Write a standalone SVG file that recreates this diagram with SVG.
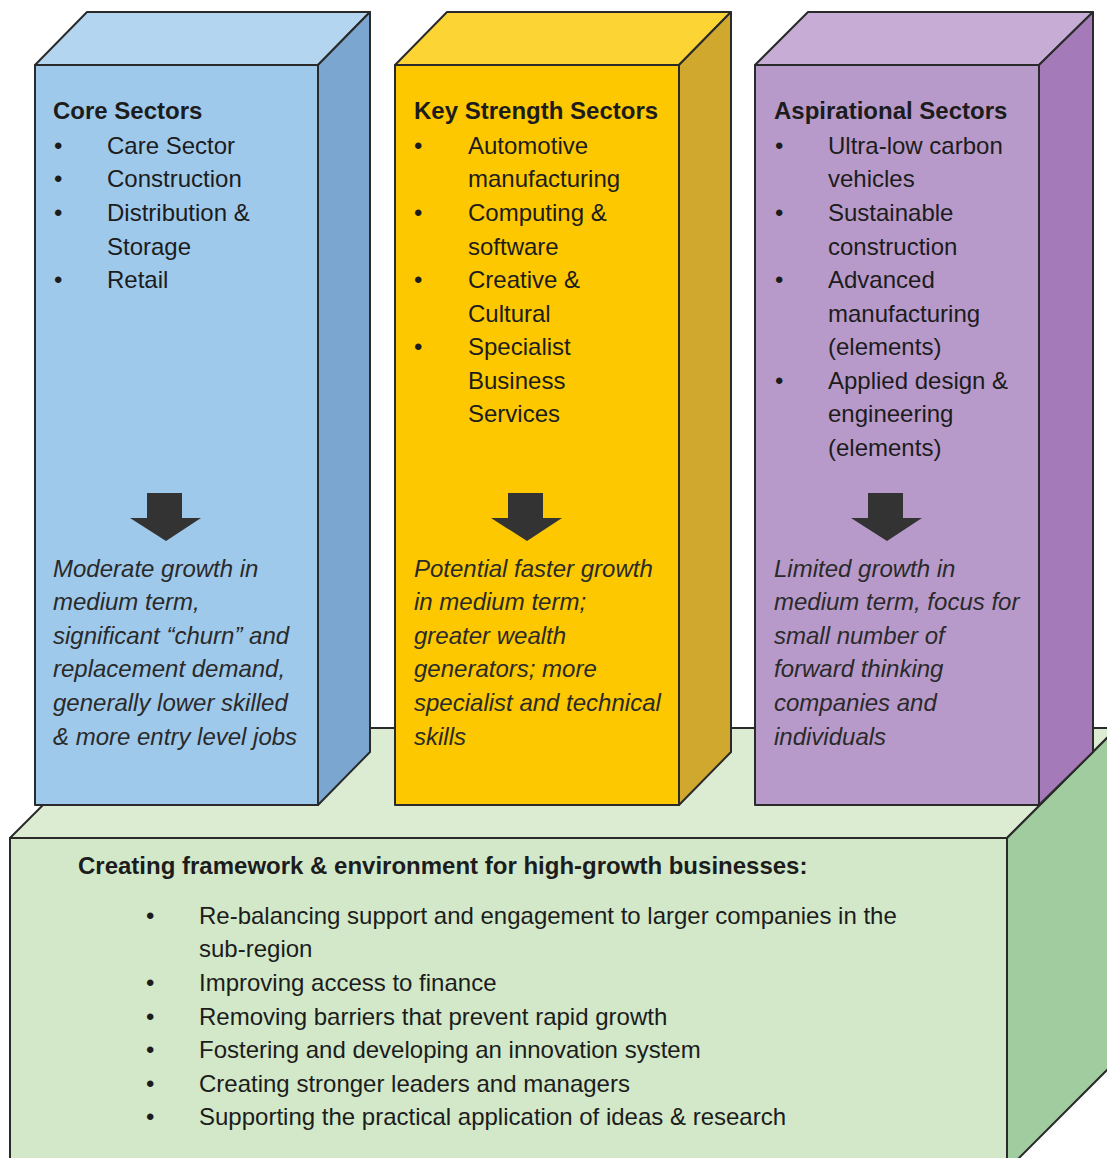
<svg xmlns="http://www.w3.org/2000/svg" width="1107" height="1158" viewBox="0 0 1107 1158">
<style>
.ol{stroke:#2a2a2a;stroke-width:2;stroke-linejoin:round}
text{font-family:"Liberation Sans",Arial,sans-serif;font-size:24px;fill:#1c1c1c}
.h{font-weight:bold}
.i{font-style:italic;fill:#2a2a2a}
.arr{fill:#333333}
</style>
<defs>
<path id="arrow" d="M-19,0 H16 V25 H35 L0,48 L-36,25 H-19 Z"/>
</defs>
<rect width="1107" height="1158" fill="#ffffff"/>
<g id="base">
<polygon class="ol" points="10,838 120,728 1117,728 1007,838" fill="#dbecd3"/>
<polygon class="ol" points="1007,838 1117,728 1117,1060 1007,1170" fill="#a0cca0"/>
<polygon class="ol" points="10,838 1007,838 1007,1170 10,1170" fill="#d2e8c9"/>
<text class="h" x="78" y="874">Creating framework &amp; environment for high-growth businesses:</text>
<g>
<text x="146" y="924">•</text><text x="199" y="924">Re-balancing support and engagement to larger companies in the</text>
<text x="199" y="957">sub-region</text>
<text x="146" y="991">•</text><text x="199" y="991">Improving access to finance</text>
<text x="146" y="1025">•</text><text x="199" y="1025">Removing barriers that prevent rapid growth</text>
<text x="146" y="1058">•</text><text x="199" y="1058">Fostering and developing an innovation system</text>
<text x="146" y="1092">•</text><text x="199" y="1092">Creating stronger leaders and managers</text>
<text x="146" y="1125">•</text><text x="199" y="1125">Supporting the practical application of ideas &amp; research</text>
</g>
</g>
<g id="core">
<polygon class="ol" points="35,65 87,12 370,12 318,65" fill="#b4d5f0"/>
<polygon class="ol" points="318,65 370,12 370,752 318,805" fill="#7ba6d0"/>
<rect class="ol" x="35" y="65" width="283" height="740" fill="#9fc9eb"/>
<text class="h" x="53" y="119">Core Sectors</text>
<text x="54" y="154">•</text><text x="107" y="154">Care Sector</text>
<text x="54" y="187">•</text><text x="107" y="187">Construction</text>
<text x="54" y="221">•</text><text x="107" y="221">Distribution &amp;</text>
<text x="107" y="255">Storage</text>
<text x="54" y="288">•</text><text x="107" y="288">Retail</text>
<use href="#arrow" x="166" y="493" class="arr"/>
<text class="i" x="53" y="577">Moderate growth in</text>
<text class="i" x="53" y="610">medium term,</text>
<text class="i" x="53" y="644">significant “churn” and</text>
<text class="i" x="53" y="677">replacement demand,</text>
<text class="i" x="53" y="711">generally lower skilled</text>
<text class="i" x="53" y="745">&amp; more entry level jobs</text>
</g>
<g id="key">
<polygon class="ol" points="395,65 447,12 731,12 679,65" fill="#fcd535"/>
<polygon class="ol" points="679,65 731,12 731,752 679,805" fill="#d1a82e"/>
<rect class="ol" x="395" y="65" width="284" height="740" fill="#fdc800"/>
<text class="h" x="414" y="119">Key Strength Sectors</text>
<text x="414" y="154">•</text><text x="468" y="154">Automotive</text>
<text x="468" y="187">manufacturing</text>
<text x="414" y="221">•</text><text x="468" y="221">Computing &amp;</text>
<text x="468" y="255">software</text>
<text x="414" y="288">•</text><text x="468" y="288">Creative &amp;</text>
<text x="468" y="322">Cultural</text>
<text x="414" y="355">•</text><text x="468" y="355">Specialist</text>
<text x="468" y="389">Business</text>
<text x="468" y="422">Services</text>
<use href="#arrow" x="527" y="493" class="arr"/>
<text class="i" x="414" y="577">Potential faster growth</text>
<text class="i" x="414" y="610">in medium term;</text>
<text class="i" x="414" y="644">greater wealth</text>
<text class="i" x="414" y="677">generators; more</text>
<text class="i" x="414" y="711">specialist and technical</text>
<text class="i" x="414" y="745">skills</text>
</g>
<g id="aspirational">
<polygon class="ol" points="755,65 808,12 1093,12 1039,65" fill="#c7acd6"/>
<polygon class="ol" points="1039,65 1093,12 1093,752 1039,805" fill="#a47ab8"/>
<rect class="ol" x="755" y="65" width="284" height="740" fill="#b89aca"/>
<text class="h" x="774" y="119">Aspirational Sectors</text>
<text x="775" y="154">•</text><text x="828" y="154">Ultra-low carbon</text>
<text x="828" y="187">vehicles</text>
<text x="775" y="221">•</text><text x="828" y="221">Sustainable</text>
<text x="828" y="255">construction</text>
<text x="775" y="288">•</text><text x="828" y="288">Advanced</text>
<text x="828" y="322">manufacturing</text>
<text x="828" y="355">(elements)</text>
<text x="775" y="389">•</text><text x="828" y="389">Applied design &amp;</text>
<text x="828" y="422">engineering</text>
<text x="828" y="456">(elements)</text>
<use href="#arrow" x="887" y="493" class="arr"/>
<text class="i" x="774" y="577">Limited growth in</text>
<text class="i" x="774" y="610">medium term, focus for</text>
<text class="i" x="774" y="644">small number of</text>
<text class="i" x="774" y="677">forward thinking</text>
<text class="i" x="774" y="711">companies and</text>
<text class="i" x="774" y="745">individuals</text>
</g>
<g id="connectors"></g>
</svg>
